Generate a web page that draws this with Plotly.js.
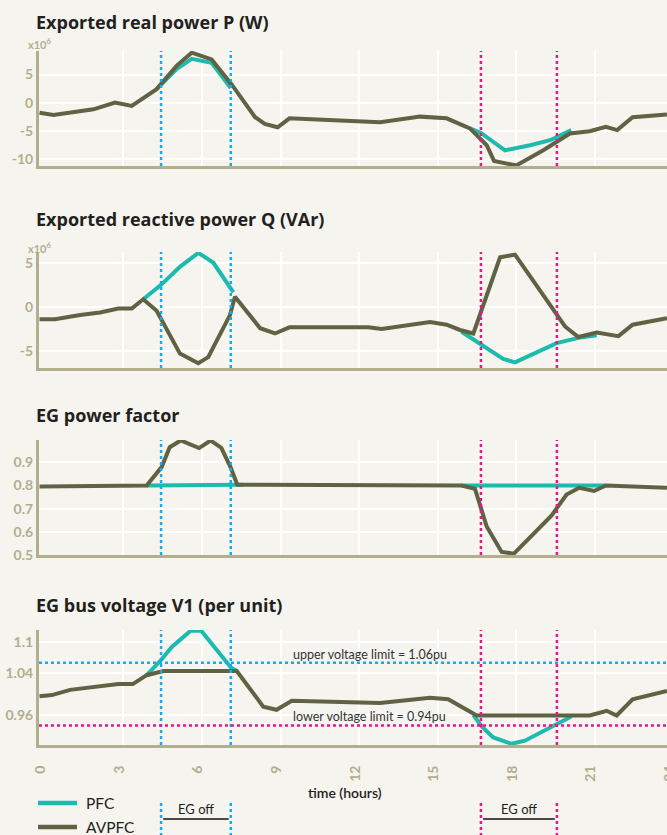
<!DOCTYPE html>
<html>
<head>
<meta charset="utf-8">
<script src="https://cdn.plot.ly/plotly-3.0.1.min.js"></script>
<style>html,body{margin:0;padding:0;background:#f5f4ee;overflow:hidden;}#chart{width:674px;height:835px;}</style>
</head>
<body>
<div id="chart"></div>
<script>
// ---------- data (hours, values) ----------
// Exported real power P (x10^6 W)
const pHoursAV = [-0.2, 0.33, 1.86, 2.68, 3.32, 4.27, 5.04, 5.61, 6.37, 7.14, 8.03, 8.4, 8.89, 9.34, 11.27, 12.8, 14.33, 15.34, 16.23, 16.87, 17.15, 18.0, 19.03, 20.05, 20.8, 21.42, 21.85, 22.44, 23.75];
const pAVPFC   = [-1.8, -2.2, -1.2, 0, -0.6, 2.4, 6.6, 8.9, 7.7, 3.2, -2.6, -3.8, -4.4, -2.8, -3.2, -3.5, -2.5, -2.8, -4.6, -7.6, -10.4, -11.2, -8.5, -5.5, -5.1, -4.3, -4.9, -2.6, -2.1];
const pHoursPFC = [4.27, 5.04, 5.61, 6.37, 7.1, null, 16.23, 16.65, 17.57, 18.53, 19.29, 20.1];
const pPFC      = [2.4, 6.0, 7.8, 7.1, 2.6, null, -4.6, -5.4, -8.5, -7.6, -6.7, -4.9];

// Exported reactive power Q (x10^6 VAr)
const qHoursAV = [-0.2, 0.39, 1.35, 2.11, 2.81, 3.32, 3.76, 4.27, 5.16, 5.86, 6.24, 7.07, 7.26, 8.22, 8.79, 9.34, 11.27, 12.35, 12.86, 14.71, 15.34, 15.85, 16.36, 17.38, 17.95, 19.54, 19.86, 20.37, 21.07, 21.9, 22.44, 23.75];
const qAVPFC   = [-1.37, -1.37, -0.88, -0.6, -0.16, -0.16, 0.9, -0.4, -5.3, -6.4, -5.7, -0.9, 1.2, -2.4, -3.0, -2.3, -2.3, -2.3, -2.5, -1.7, -2.0, -2.6, -3.0, 5.7, 6.0, -0.9, -2.2, -3.4, -2.9, -3.3, -2.0, -1.26];
const qHoursPFC = [3.76, 4.44, 5.16, 5.86, 6.43, 7.2, null, 15.91, 16.65, 17.5, 17.95, 19.54, 20.37, 21.07];
const qPFC      = [0.9, 2.55, 4.6, 6.2, 5.1, 1.7, null, -2.8, -4.2, -5.9, -6.3, -4.1, -3.5, -3.2];

// EG power factor
const pfHoursAV = [-0.2, 3.89, 4.46, 4.77, 5.19, 5.89, 6.33, 6.74, 7.09, 7.35, 15.91, 16.42, 16.87, 17.44, 17.91, 19.35, 19.92, 20.4, 20.97, 21.42, 23.75];
const pfAVPFC   = [0.795, 0.8, 0.879, 0.965, 0.994, 0.961, 0.994, 0.962, 0.879, 0.803, 0.8, 0.786, 0.623, 0.513, 0.506, 0.671, 0.761, 0.79, 0.776, 0.8, 0.79];
const pfHoursPFC = [3.89, 5.8, 7.58, null, 15.91, 21.4];
const pfPFC      = [0.8, 0.802, 0.803, null, 0.8, 0.8];

// EG bus voltage V1 (per unit)
const vHoursAV = [-0.2, 0.27, 0.97, 1.98, 2.81, 3.36, 3.89, 4.53, 7.33, 8.34, 8.85, 9.43, 11.27, 12.8, 14.71, 15.4, 16.49, 20.8, 21.45, 21.83, 22.44, 23.75];
const vAVPFC   = [0.996, 0.998, 1.008, 1.014, 1.019, 1.019, 1.036, 1.044, 1.044, 0.976, 0.970, 0.987, 0.985, 0.983, 0.993, 0.99, 0.959, 0.959, 0.968, 0.959, 0.99, 1.006];
const vHoursPFC = [3.89, 4.44, 4.85, 5.57, 5.97, 7.1, 7.33, null, 16.36, 16.68, 17.12, 17.82, 18.33, 19.54, 20.1];
const vPFC      = [1.036, 1.065, 1.09, 1.121, 1.121, 1.051, 1.044, null, 0.96, 0.938, 0.917, 0.905, 0.911, 0.941, 0.957];

// events and limits
const egOffBlue = [4.44, 7.1];
const egOffPink = [16.65, 19.55];
const upperLimit = 1.06;
const lowerLimit = 0.94;
const upperLabel = 'upper voltage limit = 1.06pu';
const lowerLabel = 'lower voltage limit = 0.94pu';

const panelTitles = ['Exported real power P (W)', 'Exported reactive power Q (VAr)', 'EG power factor', 'EG bus voltage V1 (per unit)'];
const legendNames = ['PFC', 'AVPFC'];
const xTickVals = [0, 3, 6, 9, 12, 15, 18, 21, 24];
const xGridVals = [3, 6, 9, 12, 15, 18, 21];
const yTicks = [[5, 0, -5, -10], [5, 0, -5], [0.9, 0.8, 0.7, 0.6, 0.5], [1.1, 1.04, 0.96]];
const yTickText = [['5', '0', '-5', '-10'], ['5', '0', '-5'], ['0.9', '0.8', '0.7', '0.6', '0.5'], ['1.1', '1.04', '0.96']];

// ---------- styling ----------
const W = 674, H = 835;
const BG = '#f5f4ee', TAN = '#b3ae8e', TEAL = '#1dbaae', OLIVE = '#5f6343';
const BLUE = '#17aaee', PINK = '#e8168b', DARK = '#231f20';
const FONT = 'Lato, "Open Sans", sans-serif';
const TFONT = '"Open Sans", Lato, sans-serif';
const px = (x) => x / W;
const py = (y) => 1 - y / H;

// plot areas (page pixels): [top, bottom]
const areas = [[51, 166], [252, 368], [440, 555], [630, 745]];
const yRanges = [[-11.3, 9.2], [-6.94, 6.3], [0.5, 0.996], [0.9027, 1.1223]];
const xRange = [-0.22, 24.02];
const xDomain = [px(39), 1];

const series = [
  [pHoursPFC, pPFC, pHoursAV, pAVPFC],
  [qHoursPFC, qPFC, qHoursAV, qAVPFC],
  [pfHoursPFC, pfPFC, pfHoursAV, pfAVPFC],
  [vHoursPFC, vPFC, vHoursAV, vAVPFC]
];

const traces = [];
const layout = {
  width: W, height: H,
  margin: {l: 0, r: 0, t: 0, b: 0},
  paper_bgcolor: BG, plot_bgcolor: BG,
  font: {family: FONT, color: DARK},
  showlegend: false,
  shapes: [], annotations: []
};

for (let i = 0; i < 4; i++) {
  const n = i + 1;
  const xa = 'x' + (n === 1 ? '' : n), ya = 'y' + (n === 1 ? '' : n);
  const [hP, vP, hA, vA] = series[i];
  traces.push({x: hP, y: vP, xaxis: xa, yaxis: ya, type: 'scatter', mode: 'lines', name: legendNames[0],
    connectgaps: false, line: {color: TEAL, width: 4}, hoverinfo: 'skip'});
  traces.push({x: hA, y: vA, xaxis: xa, yaxis: ya, type: 'scatter', mode: 'lines', name: legendNames[1],
    line: {color: OLIVE, width: 4}, hoverinfo: 'skip'});

  const dom = [py(areas[i][1]), py(areas[i][0])];
  layout['xaxis' + (n === 1 ? '' : n)] = {
    domain: xDomain, anchor: ya, range: xRange, fixedrange: true,
    showline: true, linecolor: TAN, linewidth: 3, zeroline: false,
    showgrid: i < 3, gridcolor: '#ffffff', gridwidth: 2,
    tickmode: 'array', tickvals: i < 3 ? xGridVals : xTickVals,
    showticklabels: i === 3, ticks: '', ticklabelstandoff: 12, ticklabelshift: -4,
    ticklabeloverflow: 'allow',
    tickangle: -90, tickfont: {size: 14, color: TAN, family: FONT, weight: 700}
  };
  layout['yaxis' + (n === 1 ? '' : n)] = {
    domain: dom, anchor: xa, range: yRanges[i], fixedrange: true,
    showline: true, linecolor: TAN, linewidth: 3, zeroline: false,
    showgrid: true, gridcolor: '#ffffff', gridwidth: 2,
    tickmode: 'array', tickvals: yTicks[i], ticktext: yTickText[i], ticks: '',
    tickfont: {size: 14, color: TAN, family: FONT, weight: 700}
  };

  // panel title
  layout.annotations.push({xref: 'paper', yref: 'paper', x: px(34), y: py([22, 219, 415, 605][i]),
    xanchor: 'left', yanchor: 'middle', showarrow: false, text: panelTitles[i],
    font: {size: 18, color: DARK, family: TFONT, weight: 700}});

  // EG off lines in each panel
  egOffBlue.forEach(h => layout.shapes.push({type: 'line', xref: xa, yref: ya + ' domain', x0: h, x1: h, y0: 0, y1: 1,
    line: {color: BLUE, width: 2.5, dash: 'dot'}, layer: 'above'}));
  egOffPink.forEach(h => layout.shapes.push({type: 'line', xref: xa, yref: ya + ' domain', x0: h, x1: h, y0: 0, y1: 1,
    line: {color: PINK, width: 2.5, dash: 'dot'}, layer: 'above'}));
}

// grid-only overlay axis for bottom panel (no gridline at 0)
layout.xaxis5 = {overlaying: 'x4', anchor: 'y4', range: xRange, fixedrange: true,
  showline: false, zeroline: false, showgrid: true, gridcolor: '#ffffff', gridwidth: 2,
  tickmode: 'array', tickvals: xGridVals, showticklabels: false, ticks: ''};
traces.unshift({x: [], y: [], xaxis: 'x5', yaxis: 'y4', type: 'scatter', mode: 'lines', showlegend: false, hoverinfo: 'skip'});

// x10^6 multipliers
[44, 247].forEach(y => layout.annotations.push({xref: 'paper', yref: 'paper', x: px(26), y: py(y),
  xanchor: 'left', yanchor: 'middle', showarrow: false, text: 'x10<sup>6</sup>',
  font: {size: 11, color: TAN, family: FONT, weight: 700}}));

// voltage limits
layout.shapes.push({type: 'line', xref: 'x4 domain', yref: 'y4', x0: 0, x1: 1, y0: upperLimit, y1: upperLimit,
  line: {color: BLUE, width: 2.5, dash: 'dot'}, layer: 'above'});
layout.shapes.push({type: 'line', xref: 'x4 domain', yref: 'y4', x0: 0, x1: 1, y0: lowerLimit, y1: lowerLimit,
  line: {color: PINK, width: 2.5, dash: 'dot'}, layer: 'above'});
layout.annotations.push({xref: 'x4', yref: 'y4', x: 12.4, y: upperLimit, yanchor: 'bottom', yshift: -1,
  showarrow: false, text: upperLabel, font: {size: 12.5, color: '#333333', family: FONT}});
layout.annotations.push({xref: 'x4', yref: 'y4', x: 12.4, y: lowerLimit, yanchor: 'bottom', yshift: -1,
  showarrow: false, text: lowerLabel, font: {size: 12.5, color: '#333333', family: FONT}});

// x axis title
layout.annotations.push({xref: 'paper', yref: 'paper', x: px(345), y: py(792), xanchor: 'center', yanchor: 'middle',
  showarrow: false, text: 'time (hours)', font: {size: 14, color: DARK, family: FONT, weight: 600}});

// legend (drawn by hand)
[[TEAL, 803], [OLIVE, 827]].forEach(([c, y], k) => {
  layout.shapes.push({type: 'line', xref: 'paper', yref: 'paper', x0: px(38), x1: px(77), y0: py(y), y1: py(y),
    line: {color: c, width: 4.5}});
  layout.annotations.push({xref: 'paper', yref: 'paper', x: px(84), y: py(y), xanchor: 'left', yanchor: 'middle',
    showarrow: false, text: legendNames[k], font: {size: 15.5, color: DARK, family: FONT}});
});

// EG off brackets below
[[egOffBlue, BLUE], [egOffPink, PINK]].forEach(([w, c]) => {
  w.forEach(h => layout.shapes.push({type: 'line', xref: 'x4', yref: 'paper', x0: h, x1: h, y0: py(803), y1: 0,
    line: {color: c, width: 2.5, dash: 'dot'}}));
  layout.shapes.push({type: 'line', xref: 'x4', yref: 'paper', x0: w[0] + 0.08, x1: w[1] - 0.08, y0: py(819), y1: py(819),
    line: {color: '#111111', width: 1.5}});
  layout.annotations.push({xref: 'x4', yref: 'paper', x: (w[0] + w[1]) / 2, y: py(819), yanchor: 'bottom',
    showarrow: false, text: 'EG off', font: {size: 13, color: DARK, family: FONT}});
});

Plotly.newPlot('chart', traces, layout, {staticPlot: true, displayModeBar: false});
</script>
</body>
</html>
